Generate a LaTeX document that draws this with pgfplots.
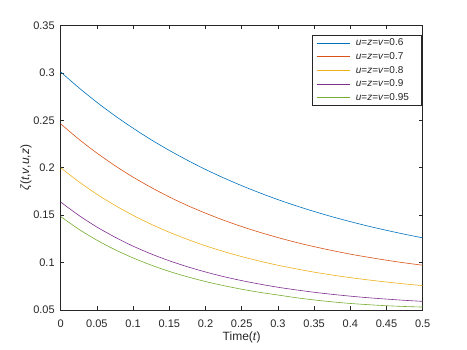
\documentclass[border=0pt]{standalone}
\usepackage{fontspec}
\setmainfont{Liberation Sans}
\usepackage{pgfplots}
\usepackage{pgfplotstable}
\pgfplotsset{compat=1.18}
\definecolor{c1}{rgb}{0,0.447,0.741}
\definecolor{c2}{rgb}{0.850,0.325,0.098}
\definecolor{c3}{rgb}{0.929,0.694,0.125}
\definecolor{c4}{rgb}{0.494,0.184,0.556}
\definecolor{c5}{rgb}{0.466,0.674,0.188}
\definecolor{axgray}{rgb}{0.15,0.15,0.15}
\pgfplotstableread{
t      a      b      c      d      e
0      0.3010 0.2463 0.2000 0.1638 0.1485
0.025  0.2844 0.2301 0.1853 0.1498 0.1352
0.05   0.2690 0.2155 0.1721 0.1375 0.1236
0.075  0.2548 0.2022 0.1603 0.1268 0.1136
0.1    0.2417 0.1901 0.1498 0.1173 0.1049
0.125  0.2295 0.1792 0.1404 0.1091 0.0973
0.15   0.2183 0.1692 0.1320 0.1019 0.0907
0.175  0.2079 0.1602 0.1245 0.0956 0.0850
0.2    0.1982 0.1521 0.1177 0.0901 0.0800
0.225  0.1893 0.1447 0.1117 0.0852 0.0757
0.25   0.1811 0.1380 0.1063 0.0810 0.0719
0.275  0.1735 0.1319 0.1015 0.0773 0.0686
0.3    0.1664 0.1264 0.0972 0.0740 0.0658
0.325  0.1599 0.1213 0.0934 0.0712 0.0630
0.35   0.1539 0.1168 0.0899 0.0687 0.0606
0.375  0.1483 0.1127 0.0869 0.0665 0.0586
0.4    0.1432 0.1089 0.0841 0.0646 0.0569
0.425  0.1384 0.1056 0.0817 0.0629 0.0556
0.45   0.1340 0.1025 0.0795 0.0615 0.0545
0.475  0.1299 0.0997 0.0775 0.0602 0.0537
0.5    0.1261 0.0972 0.0757 0.0591 0.0531
}\datatable
\newcommand{\legtext}[1]{\kern6pt\textit{u}=\textit{z}=\textit{v}=#1\kern8pt}
\begin{document}
\begin{tikzpicture}[x=1pt,y=1pt]
\useasboundingbox (0,0) rectangle (467,350);
\begin{axis}[
  at={(60.7pt,40pt)}, anchor=south west,
  scale only axis, width=362pt, height=284.5pt,
  xmin=0, xmax=0.5, ymin=0.05, ymax=0.35,
  xtick={0,0.05,0.1,0.15,0.2,0.25,0.3,0.35,0.4,0.45,0.5},
  ytick={0.05,0.1,0.15,0.2,0.25,0.3,0.35},
  tick pos=both, ticklabel pos=left,
  tick align=inside, major tick length=3.6pt,
  axis line style={draw=axgray, line width=0.5pt},
  every tick/.style={draw=axgray, line width=0.5pt},
  scaled ticks=false,
  /pgf/number format/assume math mode=true,
  /pgf/number format/fixed, /pgf/number format/precision=2,
  ticklabel style={font=\fontsize{11}{13}\selectfont, text=axgray},
  xticklabel style={anchor=center, yshift=-13.3pt},
  yticklabel style={xshift=-2.5pt},
  xlabel={Time(\textit{t})},
  xlabel style={at={(0.5,0)}, anchor=center, yshift=-27.5pt, font=\fontsize{12}{14}\selectfont, text=axgray},
  ylabel={\textit{ζ}(\textit{t},\textit{v},\textit{u},\textit{z})},
  ylabel style={at={(-0.0959,0.5)}, anchor=center, font=\fontsize{12}{14}\selectfont, text=axgray},
  legend cell align=left,
  legend image code/.code={\draw[#1] (0pt,0pt) -- (33pt,0pt);},
  legend style={at={(1,1)}, xshift=-1.5pt, yshift=-9.6pt, anchor=north east,
    draw=axgray, line width=0.5pt, fill=white,
    font=\fontsize{10}{12}\selectfont, text=axgray,
    inner xsep=4pt, inner ysep=2.5pt, row sep=3.7pt,
    nodes={inner sep=0pt, text height=8pt, text depth=2pt}},
]
\addplot[c1, line width=0.6pt, smooth] table[x=t, y=a] {\datatable};
\addlegendentry{\legtext{0.6}}
\addplot[c2, line width=0.6pt, smooth] table[x=t, y=b] {\datatable};
\addlegendentry{\legtext{0.7}}
\addplot[c3, line width=0.6pt, smooth] table[x=t, y=c] {\datatable};
\addlegendentry{\legtext{0.8}}
\addplot[c4, line width=0.6pt, smooth] table[x=t, y=d] {\datatable};
\addlegendentry{\legtext{0.9}}
\addplot[c5, line width=0.6pt, smooth] table[x=t, y=e] {\datatable};
\addlegendentry{\legtext{0.95}}
\end{axis}
\end{tikzpicture}
\end{document}
